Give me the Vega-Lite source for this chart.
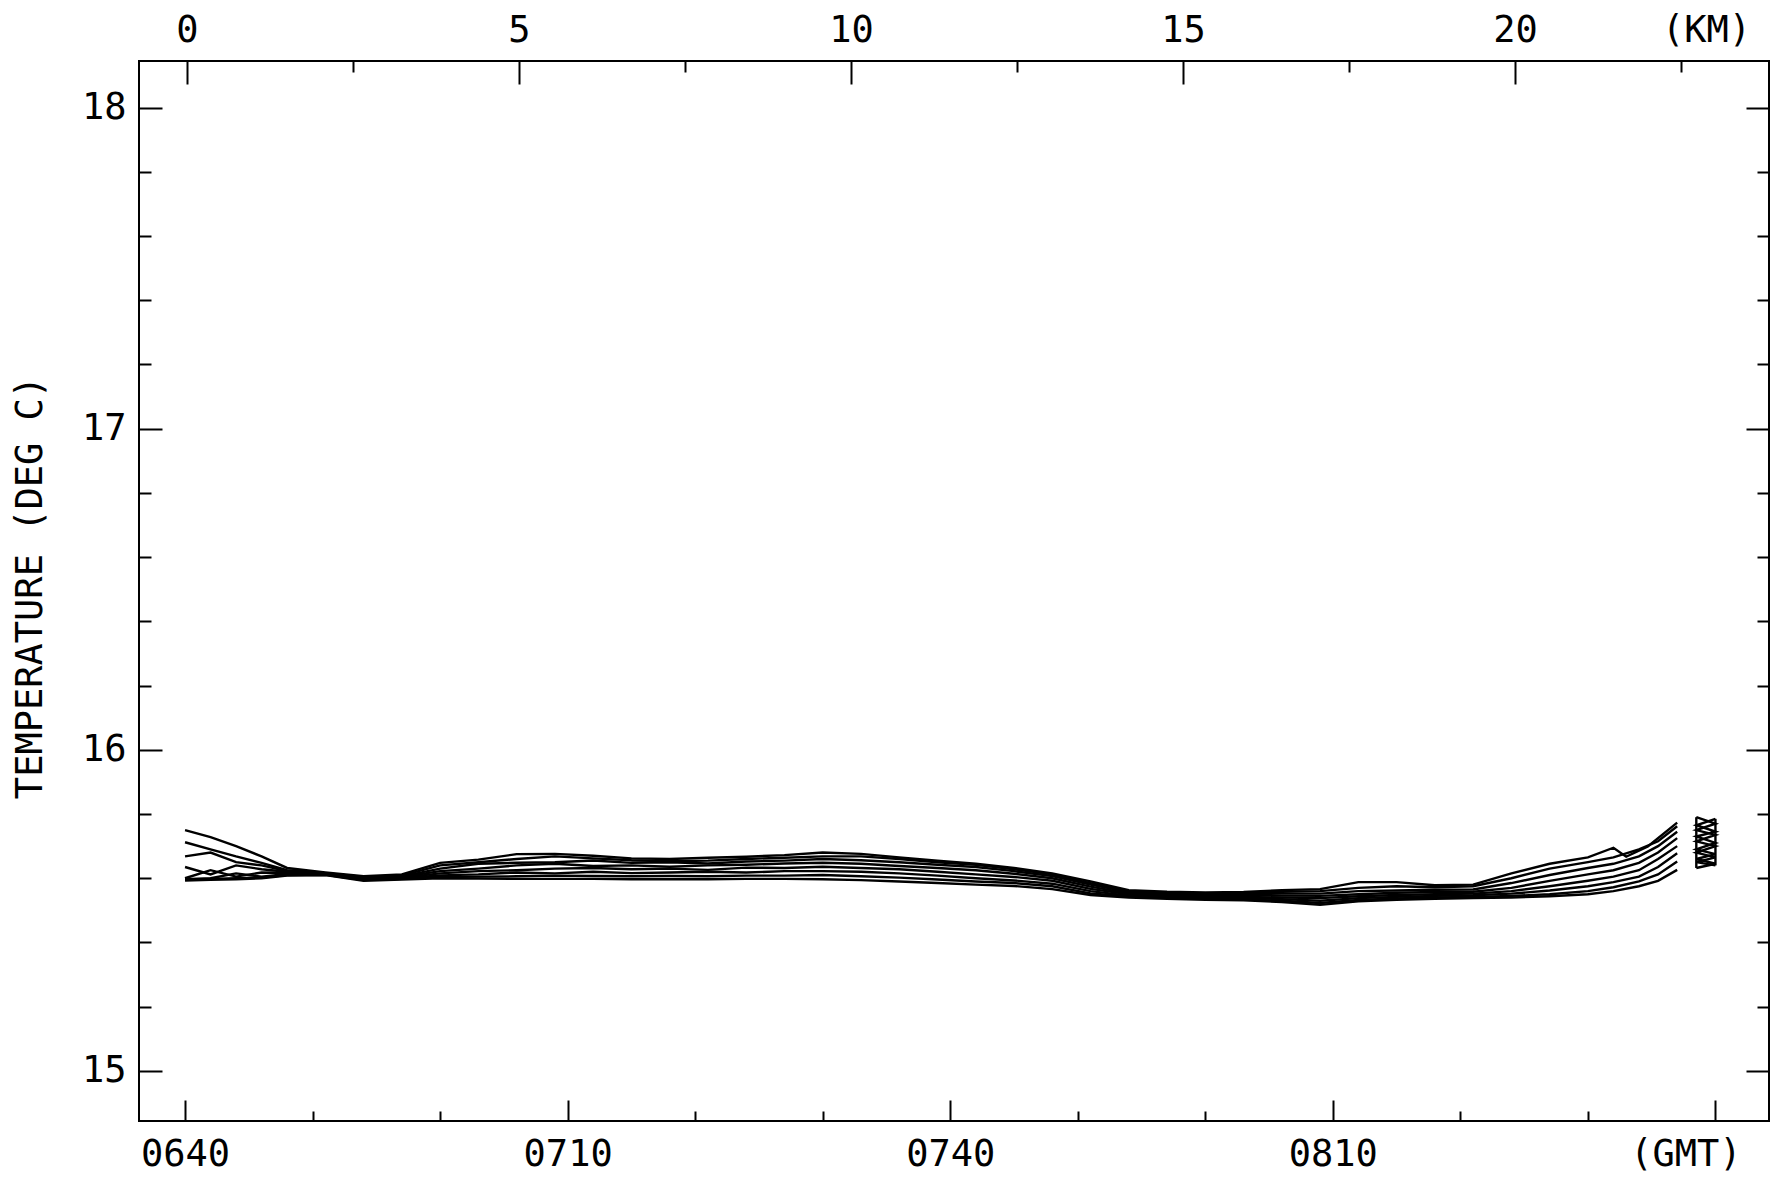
{
"$schema": "https://vega.github.io/schema/vega-lite/v6.json",
"width": 1630, "height": 1060,
"autosize": {"type": "none"},
"padding": {"left": 139, "top": 61, "right": 6, "bottom": 58},
"background": "white",
"config": {
  "view": {"stroke": "black", "strokeWidth": 2},
  "axis": {"labelFont": "DejaVu Sans Mono", "labelFontSize": 37, "labelColor": "black", "tickColor": "black", "tickWidth": 2, "grid": false, "domain": false, "titleFont": "DejaVu Sans Mono", "titleFontSize": 37, "titleFontWeight": "normal", "titleColor": "black", "labelOverlap": false, "labelFlush": false}
},
"datasets": {
  "main": [
{"s":"A","t":400,"v":15.750},{"s":"A","t":402,"v":15.728},{"s":"A","t":404,"v":15.700},{"s":"A","t":406,"v":15.668},{"s":"A","t":408,"v":15.632},{"s":"A","t":411,"v":15.618},{"s":"A","t":414,"v":15.606},{"s":"A","t":417,"v":15.612},{"s":"A","t":420,"v":15.648},{"s":"A","t":423,"v":15.658},{"s":"A","t":426,"v":15.675},{"s":"A","t":429,"v":15.676},{"s":"A","t":432,"v":15.670},{"s":"A","t":435,"v":15.662},{"s":"A","t":438,"v":15.660},{"s":"A","t":441,"v":15.664},{"s":"A","t":444,"v":15.667},{"s":"A","t":447,"v":15.672},{"s":"A","t":450,"v":15.680},{"s":"A","t":453,"v":15.676},{"s":"A","t":456,"v":15.665},{"s":"A","t":459,"v":15.655},{"s":"A","t":462,"v":15.645},{"s":"A","t":465,"v":15.632},{"s":"A","t":468,"v":15.615},{"s":"A","t":471,"v":15.590},{"s":"A","t":474,"v":15.563},{"s":"A","t":477,"v":15.558},{"s":"A","t":480,"v":15.556},{"s":"A","t":483,"v":15.557},{"s":"A","t":486,"v":15.563},{"s":"A","t":489,"v":15.566},{"s":"A","t":492,"v":15.588},{"s":"A","t":495,"v":15.588},{"s":"A","t":498,"v":15.578},{"s":"A","t":501,"v":15.580},{"s":"A","t":504,"v":15.615},{"s":"A","t":507,"v":15.645},{"s":"A","t":510,"v":15.665},{"s":"A","t":512,"v":15.695},{"s":"A","t":513,"v":15.667},{"s":"A","t":514.7,"v":15.699},{"s":"A","t":517,"v":15.773},
{"s":"B","t":400,"v":15.712},{"s":"B","t":402,"v":15.690},{"s":"B","t":404,"v":15.668},{"s":"B","t":406,"v":15.648},{"s":"B","t":408,"v":15.625},{"s":"B","t":411,"v":15.616},{"s":"B","t":414,"v":15.604},{"s":"B","t":417,"v":15.608},{"s":"B","t":420,"v":15.640},{"s":"B","t":423,"v":15.650},{"s":"B","t":426,"v":15.660},{"s":"B","t":429,"v":15.668},{"s":"B","t":432,"v":15.662},{"s":"B","t":435,"v":15.656},{"s":"B","t":438,"v":15.653},{"s":"B","t":441,"v":15.655},{"s":"B","t":444,"v":15.660},{"s":"B","t":447,"v":15.664},{"s":"B","t":450,"v":15.668},{"s":"B","t":453,"v":15.668},{"s":"B","t":456,"v":15.660},{"s":"B","t":459,"v":15.650},{"s":"B","t":462,"v":15.642},{"s":"B","t":465,"v":15.628},{"s":"B","t":468,"v":15.612},{"s":"B","t":471,"v":15.585},{"s":"B","t":474,"v":15.560},{"s":"B","t":477,"v":15.555},{"s":"B","t":480,"v":15.553},{"s":"B","t":483,"v":15.554},{"s":"B","t":486,"v":15.558},{"s":"B","t":489,"v":15.560},{"s":"B","t":492,"v":15.570},{"s":"B","t":495,"v":15.575},{"s":"B","t":498,"v":15.572},{"s":"B","t":501,"v":15.575},{"s":"B","t":504,"v":15.600},{"s":"B","t":507,"v":15.630},{"s":"B","t":510,"v":15.650},{"s":"B","t":512,"v":15.665},{"s":"B","t":514,"v":15.690},{"s":"B","t":515.5,"v":15.715},{"s":"B","t":517,"v":15.762},
{"s":"C","t":400,"v":15.668},{"s":"C","t":402,"v":15.680},{"s":"C","t":404,"v":15.650},{"s":"C","t":406,"v":15.640},{"s":"C","t":408,"v":15.622},{"s":"C","t":411,"v":15.615},{"s":"C","t":414,"v":15.602},{"s":"C","t":417,"v":15.606},{"s":"C","t":420,"v":15.630},{"s":"C","t":423,"v":15.645},{"s":"C","t":426,"v":15.648},{"s":"C","t":429,"v":15.650},{"s":"C","t":432,"v":15.655},{"s":"C","t":435,"v":15.648},{"s":"C","t":438,"v":15.650},{"s":"C","t":441,"v":15.646},{"s":"C","t":444,"v":15.652},{"s":"C","t":447,"v":15.655},{"s":"C","t":450,"v":15.660},{"s":"C","t":453,"v":15.656},{"s":"C","t":456,"v":15.650},{"s":"C","t":459,"v":15.642},{"s":"C","t":462,"v":15.635},{"s":"C","t":465,"v":15.622},{"s":"C","t":468,"v":15.607},{"s":"C","t":471,"v":15.580},{"s":"C","t":474,"v":15.557},{"s":"C","t":477,"v":15.552},{"s":"C","t":480,"v":15.549},{"s":"C","t":483,"v":15.550},{"s":"C","t":486,"v":15.552},{"s":"C","t":489,"v":15.552},{"s":"C","t":492,"v":15.560},{"s":"C","t":495,"v":15.562},{"s":"C","t":498,"v":15.564},{"s":"C","t":501,"v":15.565},{"s":"C","t":504,"v":15.585},{"s":"C","t":507,"v":15.610},{"s":"C","t":510,"v":15.632},{"s":"C","t":512,"v":15.645},{"s":"C","t":514,"v":15.668},{"s":"C","t":515.5,"v":15.700},{"s":"C","t":517,"v":15.745},
{"s":"D","t":400,"v":15.635},{"s":"D","t":402,"v":15.612},{"s":"D","t":404,"v":15.640},{"s":"D","t":406,"v":15.628},{"s":"D","t":408,"v":15.620},{"s":"D","t":411,"v":15.614},{"s":"D","t":414,"v":15.600},{"s":"D","t":417,"v":15.604},{"s":"D","t":420,"v":15.622},{"s":"D","t":423,"v":15.630},{"s":"D","t":426,"v":15.640},{"s":"D","t":429,"v":15.645},{"s":"D","t":432,"v":15.638},{"s":"D","t":435,"v":15.640},{"s":"D","t":438,"v":15.636},{"s":"D","t":441,"v":15.640},{"s":"D","t":444,"v":15.642},{"s":"D","t":447,"v":15.646},{"s":"D","t":450,"v":15.648},{"s":"D","t":453,"v":15.645},{"s":"D","t":456,"v":15.638},{"s":"D","t":459,"v":15.632},{"s":"D","t":462,"v":15.625},{"s":"D","t":465,"v":15.614},{"s":"D","t":468,"v":15.600},{"s":"D","t":471,"v":15.574},{"s":"D","t":474,"v":15.553},{"s":"D","t":477,"v":15.548},{"s":"D","t":480,"v":15.546},{"s":"D","t":483,"v":15.546},{"s":"D","t":486,"v":15.546},{"s":"D","t":489,"v":15.545},{"s":"D","t":492,"v":15.550},{"s":"D","t":495,"v":15.555},{"s":"D","t":498,"v":15.557},{"s":"D","t":501,"v":15.558},{"s":"D","t":504,"v":15.570},{"s":"D","t":507,"v":15.592},{"s":"D","t":510,"v":15.612},{"s":"D","t":512,"v":15.625},{"s":"D","t":514,"v":15.648},{"s":"D","t":515.5,"v":15.680},{"s":"D","t":517,"v":15.725},
{"s":"E","t":400,"v":15.600},{"s":"E","t":402,"v":15.625},{"s":"E","t":404,"v":15.605},{"s":"E","t":406,"v":15.618},{"s":"E","t":408,"v":15.617},{"s":"E","t":411,"v":15.613},{"s":"E","t":414,"v":15.598},{"s":"E","t":417,"v":15.602},{"s":"E","t":420,"v":15.615},{"s":"E","t":423,"v":15.622},{"s":"E","t":426,"v":15.625},{"s":"E","t":429,"v":15.630},{"s":"E","t":432,"v":15.632},{"s":"E","t":435,"v":15.628},{"s":"E","t":438,"v":15.630},{"s":"E","t":441,"v":15.626},{"s":"E","t":444,"v":15.633},{"s":"E","t":447,"v":15.632},{"s":"E","t":450,"v":15.636},{"s":"E","t":453,"v":15.632},{"s":"E","t":456,"v":15.628},{"s":"E","t":459,"v":15.620},{"s":"E","t":462,"v":15.612},{"s":"E","t":465,"v":15.604},{"s":"E","t":468,"v":15.592},{"s":"E","t":471,"v":15.567},{"s":"E","t":474,"v":15.550},{"s":"E","t":477,"v":15.545},{"s":"E","t":480,"v":15.543},{"s":"E","t":483,"v":15.542},{"s":"E","t":486,"v":15.540},{"s":"E","t":489,"v":15.538},{"s":"E","t":492,"v":15.544},{"s":"E","t":495,"v":15.548},{"s":"E","t":498,"v":15.550},{"s":"E","t":501,"v":15.552},{"s":"E","t":504,"v":15.560},{"s":"E","t":507,"v":15.575},{"s":"E","t":510,"v":15.592},{"s":"E","t":512,"v":15.605},{"s":"E","t":514,"v":15.625},{"s":"E","t":515.5,"v":15.660},{"s":"E","t":517,"v":15.700},
{"s":"F","t":400,"v":15.597},{"s":"F","t":402,"v":15.600},{"s":"F","t":404,"v":15.615},{"s":"F","t":406,"v":15.605},{"s":"F","t":408,"v":15.613},{"s":"F","t":411,"v":15.612},{"s":"F","t":414,"v":15.596},{"s":"F","t":417,"v":15.600},{"s":"F","t":420,"v":15.609},{"s":"F","t":423,"v":15.612},{"s":"F","t":426,"v":15.618},{"s":"F","t":429,"v":15.615},{"s":"F","t":432,"v":15.620},{"s":"F","t":435,"v":15.616},{"s":"F","t":438,"v":15.618},{"s":"F","t":441,"v":15.620},{"s":"F","t":444,"v":15.618},{"s":"F","t":447,"v":15.622},{"s":"F","t":450,"v":15.622},{"s":"F","t":453,"v":15.620},{"s":"F","t":456,"v":15.615},{"s":"F","t":459,"v":15.608},{"s":"F","t":462,"v":15.600},{"s":"F","t":465,"v":15.593},{"s":"F","t":468,"v":15.583},{"s":"F","t":471,"v":15.560},{"s":"F","t":474,"v":15.546},{"s":"F","t":477,"v":15.542},{"s":"F","t":480,"v":15.540},{"s":"F","t":483,"v":15.538},{"s":"F","t":486,"v":15.535},{"s":"F","t":489,"v":15.530},{"s":"F","t":492,"v":15.538},{"s":"F","t":495,"v":15.542},{"s":"F","t":498,"v":15.545},{"s":"F","t":501,"v":15.547},{"s":"F","t":504,"v":15.552},{"s":"F","t":507,"v":15.562},{"s":"F","t":510,"v":15.575},{"s":"F","t":512,"v":15.588},{"s":"F","t":514,"v":15.605},{"s":"F","t":515.5,"v":15.635},{"s":"F","t":517,"v":15.678},
{"s":"G","t":400,"v":15.595},{"s":"G","t":402,"v":15.598},{"s":"G","t":404,"v":15.600},{"s":"G","t":406,"v":15.602},{"s":"G","t":408,"v":15.610},{"s":"G","t":411,"v":15.611},{"s":"G","t":414,"v":15.594},{"s":"G","t":417,"v":15.598},{"s":"G","t":420,"v":15.604},{"s":"G","t":423,"v":15.605},{"s":"G","t":426,"v":15.606},{"s":"G","t":429,"v":15.608},{"s":"G","t":432,"v":15.607},{"s":"G","t":435,"v":15.606},{"s":"G","t":438,"v":15.607},{"s":"G","t":441,"v":15.606},{"s":"G","t":444,"v":15.608},{"s":"G","t":447,"v":15.608},{"s":"G","t":450,"v":15.610},{"s":"G","t":453,"v":15.606},{"s":"G","t":456,"v":15.602},{"s":"G","t":459,"v":15.596},{"s":"G","t":462,"v":15.590},{"s":"G","t":465,"v":15.585},{"s":"G","t":468,"v":15.575},{"s":"G","t":471,"v":15.553},{"s":"G","t":474,"v":15.543},{"s":"G","t":477,"v":15.539},{"s":"G","t":480,"v":15.537},{"s":"G","t":483,"v":15.534},{"s":"G","t":486,"v":15.530},{"s":"G","t":489,"v":15.523},{"s":"G","t":492,"v":15.532},{"s":"G","t":495,"v":15.537},{"s":"G","t":498,"v":15.540},{"s":"G","t":501,"v":15.542},{"s":"G","t":504,"v":15.545},{"s":"G","t":507,"v":15.550},{"s":"G","t":510,"v":15.560},{"s":"G","t":512,"v":15.572},{"s":"G","t":514,"v":15.590},{"s":"G","t":515.5,"v":15.612},{"s":"G","t":517,"v":15.652},
{"s":"H","t":400,"v":15.593},{"s":"H","t":402,"v":15.595},{"s":"H","t":404,"v":15.597},{"s":"H","t":406,"v":15.600},{"s":"H","t":408,"v":15.608},{"s":"H","t":411,"v":15.610},{"s":"H","t":414,"v":15.592},{"s":"H","t":417,"v":15.596},{"s":"H","t":420,"v":15.600},{"s":"H","t":423,"v":15.599},{"s":"H","t":426,"v":15.598},{"s":"H","t":429,"v":15.598},{"s":"H","t":432,"v":15.598},{"s":"H","t":435,"v":15.597},{"s":"H","t":438,"v":15.597},{"s":"H","t":441,"v":15.597},{"s":"H","t":444,"v":15.598},{"s":"H","t":447,"v":15.598},{"s":"H","t":450,"v":15.597},{"s":"H","t":453,"v":15.594},{"s":"H","t":456,"v":15.590},{"s":"H","t":459,"v":15.585},{"s":"H","t":462,"v":15.580},{"s":"H","t":465,"v":15.576},{"s":"H","t":468,"v":15.566},{"s":"H","t":471,"v":15.548},{"s":"H","t":474,"v":15.540},{"s":"H","t":477,"v":15.536},{"s":"H","t":480,"v":15.533},{"s":"H","t":483,"v":15.531},{"s":"H","t":486,"v":15.526},{"s":"H","t":489,"v":15.517},{"s":"H","t":492,"v":15.528},{"s":"H","t":495,"v":15.533},{"s":"H","t":498,"v":15.536},{"s":"H","t":501,"v":15.538},{"s":"H","t":504,"v":15.540},{"s":"H","t":507,"v":15.544},{"s":"H","t":510,"v":15.550},{"s":"H","t":512,"v":15.560},{"s":"H","t":514,"v":15.575},{"s":"H","t":515.5,"v":15.592},{"s":"H","t":517,"v":15.626}
  ],
  "box": [
{"s":"K1","i":1,"t":518.5,"v":15.632},{"s":"K1","i":2,"t":518.5,"v":15.790},
{"s":"K2","i":1,"t":520.0,"v":15.640},{"s":"K2","i":2,"t":520.0,"v":15.785},
{"s":"K3","i":1,"t":518.5,"v":15.790},{"s":"K3","i":2,"t":520.0,"v":15.770},{"s":"K3","i":3,"t":518.5,"v":15.750},{"s":"K3","i":4,"t":520.0,"v":15.735},{"s":"K3","i":5,"t":518.5,"v":15.715},{"s":"K3","i":6,"t":520.0,"v":15.700},{"s":"K3","i":7,"t":518.5,"v":15.680},{"s":"K3","i":8,"t":520.0,"v":15.665},{"s":"K3","i":9,"t":518.5,"v":15.650},{"s":"K3","i":10,"t":520.0,"v":15.640},
{"s":"K4","i":1,"t":520.0,"v":15.785},{"s":"K4","i":2,"t":518.5,"v":15.765},{"s":"K4","i":3,"t":520.0,"v":15.745},{"s":"K4","i":4,"t":518.5,"v":15.730},{"s":"K4","i":5,"t":520.0,"v":15.710},{"s":"K4","i":6,"t":518.5,"v":15.690},{"s":"K4","i":7,"t":520.0,"v":15.675},{"s":"K4","i":8,"t":518.5,"v":15.660},{"s":"K4","i":9,"t":520.0,"v":15.645},{"s":"K4","i":10,"t":518.5,"v":15.632}
  ]
},
"resolve": {"scale": {"x": "independent", "y": "independent"}},
"layer": [
  {
    "data": {"name": "main"},
    "mark": {"type": "line", "color": "black", "strokeWidth": 2.4},
    "encoding": {
      "x": {"field": "t", "type": "quantitative", "scale": {"domain": [396.39, 524.2], "nice": false, "zero": false},
        "axis": {"orient": "bottom", "values": [400, 430, 460, 490, 520], "ticks": false, "title": null, "labelPadding": 15,
          "labelExpr": "datum.value==400?'0640':datum.value==430?'0710':datum.value==460?'0740':datum.value==490?'0810':'(GMT)'",
          "labelOffset": {"condition": {"test": "datum.value==520", "value": -30}, "value": 0}}},
      "y": {"field": "v", "type": "quantitative", "scale": {"domain": [14.844, 18.145], "nice": false, "zero": false},
        "axis": {"orient": "left", "values": [15, 16, 17, 18], "ticks": false, "labelPadding": 13, "labelBaseline": "middle",
          "title": "TEMPERATURE (DEG C)", "titleX": -109, "titleY": 526, "titleAngle": 270, "titleAlign": "center", "titleBaseline": "middle"}},
      "detail": {"field": "s"}
    }
  },
  {
    "data": {"name": "box"},
    "mark": {"type": "line", "color": "black", "strokeWidth": 2.4},
    "encoding": {
      "x": {"field": "t", "type": "quantitative", "scale": {"domain": [396.39, 524.2], "nice": false, "zero": false}, "axis": null},
      "y": {"field": "v", "type": "quantitative", "scale": {"domain": [14.844, 18.145], "nice": false, "zero": false}, "axis": null},
      "detail": {"field": "s"},
      "order": {"field": "i", "type": "quantitative"}
    }
  },
  {
    "data": {"values": [{}]},
    "mark": {"type": "point", "opacity": 0},
    "encoding": {
      "x": {"datum": 450, "type": "quantitative", "scale": {"domain": [396.39, 524.2], "nice": false, "zero": false},
        "axis": {"orient": "bottom", "values": [400, 430, 460, 490, 520], "tickSize": -21, "labels": false, "title": null}},
      "y": {"datum": 16, "type": "quantitative", "scale": {"domain": [14.844, 18.145], "nice": false, "zero": false},
        "axis": {"orient": "left", "values": [15, 16, 17, 18], "tickSize": -23, "labels": false, "title": null}}
    }
  },
  {
    "data": {"values": [{}]},
    "mark": {"type": "point", "opacity": 0},
    "encoding": {
      "x": {"datum": 450, "type": "quantitative", "scale": {"domain": [396.39, 524.2], "nice": false, "zero": false},
        "axis": {"orient": "bottom", "values": [410, 420, 440, 450, 470, 480, 500, 510], "tickSize": -10, "labels": false, "title": null}},
      "y": {"datum": 16, "type": "quantitative", "scale": {"domain": [14.844, 18.145], "nice": false, "zero": false},
        "axis": {"orient": "left", "values": [15.2, 15.4, 15.6, 15.8, 16.2, 16.4, 16.6, 16.8, 17.2, 17.4, 17.6, 17.8], "tickSize": -12, "labels": false, "title": null}}
    }
  },
  {
    "data": {"values": [{}]},
    "mark": {"type": "point", "opacity": 0},
    "encoding": {
      "x": {"datum": 10, "type": "quantitative", "scale": {"domain": [-0.723, 23.825], "nice": false, "zero": false},
        "axis": {"orient": "top", "values": [0, 5, 10, 15, 20, 22.5], "ticks": false, "title": null, "labelPadding": 12,
          "labelExpr": "datum.value==22.5?'(KM)':datum.label",
          "labelOffset": {"condition": {"test": "datum.value==22.5", "value": 25}, "value": 0}}},
      "y": {"datum": 16, "type": "quantitative", "scale": {"domain": [14.844, 18.145], "nice": false, "zero": false},
        "axis": {"orient": "right", "values": [15, 16, 17, 18], "tickSize": -23, "labels": false, "title": null}}
    }
  },
  {
    "data": {"values": [{}]},
    "mark": {"type": "point", "opacity": 0},
    "encoding": {
      "x": {"datum": 10, "type": "quantitative", "scale": {"domain": [-0.723, 23.825], "nice": false, "zero": false},
        "axis": {"orient": "top", "values": [0, 5, 10, 15, 20], "tickSize": -23, "labels": false, "title": null}},
      "y": {"datum": 16, "type": "quantitative", "scale": {"domain": [14.844, 18.145], "nice": false, "zero": false},
        "axis": {"orient": "right", "values": [15.2, 15.4, 15.6, 15.8, 16.2, 16.4, 16.6, 16.8, 17.2, 17.4, 17.6, 17.8], "tickSize": -12, "labels": false, "title": null}}
    }
  },
  {
    "data": {"values": [{}]},
    "mark": {"type": "point", "opacity": 0},
    "encoding": {
      "x": {"datum": 10, "type": "quantitative", "scale": {"domain": [-0.723, 23.825], "nice": false, "zero": false},
        "axis": {"orient": "top", "values": [2.5, 7.5, 12.5, 17.5, 22.5], "tickSize": -11, "labels": false, "title": null}}
    }
  }
]
}
